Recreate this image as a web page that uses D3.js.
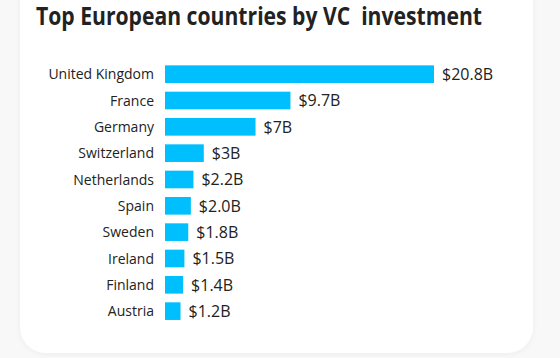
<!DOCTYPE html>
<html>
<head>
<meta charset="utf-8">
<script src="https://cdn.jsdelivr.net/npm/d3@7"></script>
<style>
  html, body { margin: 0; padding: 0; background: #f8f8f8; }
  svg { display: block; }
</style>
</head>
<body>
<div id="chart"></div>
<script>
const countries = ["United Kingdom", "France", "Germany", "Switzerland", "Netherlands",
                   "Spain", "Sweden", "Ireland", "Finland", "Austria"];
const investment = [20.8, 9.7, 7, 3, 2.2, 2.0, 1.8, 1.5, 1.4, 1.2];
const valueLabels = ["$20.8B", "$9.7B", "$7B", "$3B", "$2.2B",
                     "$2.0B", "$1.8B", "$1.5B", "$1.4B", "$1.2B"];

const data = countries.map((c, i) => ({ country: c, value: investment[i], label: valueLabels[i] }));

const svgWidth = 560, svgHeight = 358;
const svg = d3.select("#chart").append("svg")
    .attr("width", svgWidth)
    .attr("height", svgHeight);

const defs = svg.append("defs");
const shadow = defs.append("filter").attr("id", "shadow")
    .attr("x", "-10%").attr("y", "-10%").attr("width", "120%").attr("height", "120%");
shadow.append("feGaussianBlur").attr("in", "SourceAlpha").attr("stdDeviation", 3);
shadow.append("feOffset").attr("dy", 1).attr("result", "b");
shadow.append("feComponentTransfer").append("feFuncA").attr("type", "linear").attr("slope", 0.05);
const merge = shadow.append("feMerge");
merge.append("feMergeNode");
merge.append("feMergeNode").attr("in", "SourceGraphic");

// card
svg.append("rect")
    .attr("x", 20).attr("y", -40)
    .attr("width", 513).attr("height", 393)
    .attr("rx", 26)
    .attr("fill", "#fff")
    .attr("filter", "url(#shadow)");

svg.append("text")
    .attr("x", 36).attr("y", 25)
    .style("white-space", "pre")
    .style("font-family", "'Open Sans', sans-serif")
    .style("font-weight", 700)
    .style("font-size", "24.5px")
    .attr("textLength", 446)
    .attr("lengthAdjust", "spacingAndGlyphs")
    .attr("fill", "#222")
    .text("Top European countries by VC  investment");

const x = d3.scaleLinear().domain([0, 20.8]).range([165, 434]);
const y = d3.scaleBand().domain(countries).range([61, 324.3]).paddingInner(0.33).paddingOuter(0.165);

const g = svg.append("g");

g.selectAll("rect.bar").data(data).join("rect")
    .attr("class", "bar")
    .attr("x", x(0))
    .attr("y", d => y(d.country))
    .attr("width", d => x(d.value) - x(0))
    .attr("height", y.bandwidth())
    .attr("fill", "#00bfff");

g.selectAll("text.cat").data(data).join("text")
    .attr("class", "cat")
    .attr("x", x(0) - 11)
    .attr("y", d => y(d.country) + y.bandwidth() / 2)
    .attr("dy", "0.36em")
    .attr("text-anchor", "end")
    .style("font-family", "'Open Sans', sans-serif")
    .style("font-size", "14px")
    .attr("fill", "#222")
    .text(d => d.country);

g.selectAll("text.val").data(data).join("text")
    .attr("class", "val")
    .attr("x", d => x(d.value) + 8)
    .attr("y", d => y(d.country) + y.bandwidth() / 2)
    .attr("dy", "0.37em")
    .style("font-family", "'Open Sans', sans-serif")
    .style("font-size", "16px")
    .attr("fill", "#222")
    .text(d => d.label);
</script>
</body>
</html>
